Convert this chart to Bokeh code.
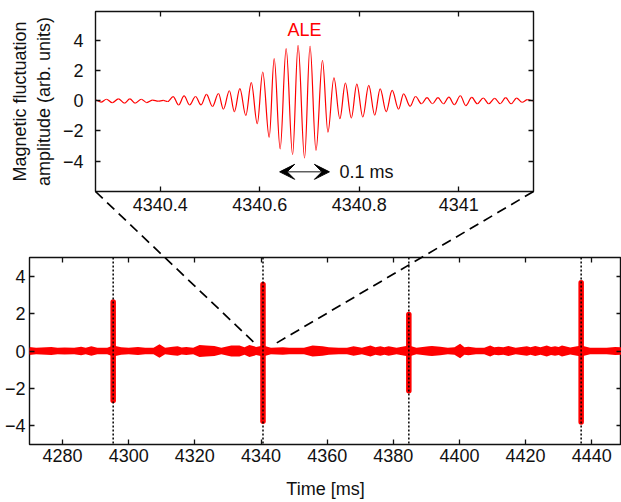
import numpy as np
from bokeh.plotting import figure
from bokeh.layouts import column
from bokeh.models import Range1d, FixedTicker, LinearAxis, Arrow, VeeHead, Label, Span
from bokeh.embed import file_html
from bokeh.resources import INLINE

# ---------------- data ----------------
# Inset: successive extrema of the zoomed ALE wave packet (time [ms], amplitude)
zoom_t = [4340.270, 4340.281, 4340.292, 4340.304, 4340.316, 4340.328, 4340.339, 4340.350,
          4340.362, 4340.373, 4340.385, 4340.396, 4340.406, 4340.415, 4340.426, 4340.437,
          4340.448, 4340.459, 4340.471, 4340.482, 4340.493, 4340.505, 4340.517, 4340.527,
          4340.539, 4340.549, 4340.560, 4340.572, 4340.583, 4340.595, 4340.606, 4340.619,
          4340.629, 4340.641, 4340.653, 4340.666, 4340.677, 4340.690, 4340.701, 4340.713,
          4340.726, 4340.737, 4340.749, 4340.761, 4340.772, 4340.784, 4340.795, 4340.807,
          4340.819, 4340.831, 4340.842, 4340.854, 4340.866, 4340.879, 4340.889, 4340.902,
          4340.913, 4340.925, 4340.936, 4340.947, 4340.958, 4340.969, 4340.980, 4340.991,
          4341.003, 4341.014, 4341.026, 4341.037, 4341.049, 4341.060, 4341.072, 4341.083,
          4341.094, 4341.105, 4341.116, 4341.127, 4341.138, 4341.150]
zoom_v = [0.05, -0.09, 0.10, -0.13, 0.13, -0.16, 0.12, -0.16,
          0.10, -0.12, 0.04, -0.03, 0.02, -0.05, 0.27, -0.28,
          0.32, -0.27, 0.28, -0.27, 0.42, -0.38, 0.48, -0.56,
          0.66, -0.72, 0.80, -0.97, 1.20, -1.52, 1.90, -2.41,
          2.78, -3.18, 3.44, -3.56, 3.66, -3.78, 3.62, -3.29,
          2.67, -2.08, 1.52, -1.19, 1.17, -1.13, 1.10, -1.07,
          1.01, -0.95, 0.79, -0.72, 0.68, -0.55, 0.46, -0.36,
          0.28, -0.20, 0.20, -0.20, 0.20, -0.20, 0.24, -0.26,
          0.33, -0.32, 0.22, -0.20, 0.18, -0.20, 0.16, -0.20,
          0.20, -0.20, 0.17, -0.10, 0.07, 0.00]
zoom_xticks = [4340.4, 4340.6, 4340.8, 4341.0]
zoom_xlabels = ["4340.4", "4340.6", "4340.8", "4341"]
zoom_yticks = [-4, -2, 0, 2, 4]
zoom_ylabels = ["\u22124", "\u22122", "0", "2", "4"]
period_ms = 0.1

# Main trace: ALE bursts (time [ms], max, min)
burst_t = [4295.3, 4340.6, 4384.7, 4436.8]
burst_top = [2.62, 3.55, 1.95, 3.65]
burst_bot = [-2.65, -3.75, -2.12, -3.80]
zoom_burst = 1  # burst shown in the inset

# Main trace: half-width of the background fluctuation band (time [ms], amplitude)
env_t = [4270.0, 4272.0, 4276.6, 4278.5, 4280.6, 4283.5, 4285.6, 4287.0, 4288.7, 4290.5,
         4293.5, 4295.3, 4297.7, 4300.0, 4302.8, 4305.0, 4307.5, 4309.3, 4311.0, 4313.3,
         4314.8, 4316.0, 4317.4, 4319.5, 4321.4, 4323.4, 4325.9, 4328.0, 4331.0, 4333.5,
         4335.0, 4336.5, 4338.5, 4340.6, 4343.0, 4346.6, 4348.5, 4350.6, 4353.0, 4355.6,
         4358.6, 4360.5, 4363.5, 4366.0, 4368.0, 4370.5, 4373.1, 4374.6, 4376.1, 4377.3,
         4378.6, 4381.0, 4384.7, 4387.0, 4390.7, 4391.7, 4394.2, 4396.5, 4398.5, 4400.2,
         4401.5, 4402.7, 4405.0, 4407.5, 4409.3, 4410.5, 4411.8, 4413.3, 4414.8, 4417.0,
         4420.4, 4421.5, 4422.9, 4424.5, 4426.4, 4427.7, 4428.9, 4430.0, 4431.0, 4433.5,
         4436.8, 4439.5, 4442.0, 4444.5, 4447.1, 4449.0]
env_half = [0.21, 0.17, 0.22, 0.17, 0.19, 0.17, 0.23, 0.18, 0.25, 0.17,
            0.18, 0.30, 0.20, 0.17, 0.21, 0.17, 0.18, 0.36, 0.18, 0.23,
            0.25, 0.19, 0.21, 0.18, 0.32, 0.29, 0.27, 0.18, 0.30, 0.29,
            0.20, 0.32, 0.22, 0.30, 0.18, 0.20, 0.17, 0.18, 0.17, 0.29,
            0.25, 0.20, 0.17, 0.18, 0.25, 0.18, 0.29, 0.20, 0.25, 0.20,
            0.25, 0.18, 0.30, 0.18, 0.25, 0.27, 0.23, 0.18, 0.20, 0.39,
            0.20, 0.23, 0.17, 0.18, 0.29, 0.20, 0.23, 0.20, 0.27, 0.18,
            0.25, 0.20, 0.27, 0.20, 0.29, 0.21, 0.25, 0.21, 0.29, 0.19,
            0.30, 0.17, 0.18, 0.17, 0.21, 0.20]
main_xticks = [4280, 4300, 4320, 4340, 4360, 4380, 4400, 4420, 4440]
main_xlabels = [str(v) for v in main_xticks]
main_yticks = [-4, -2, 0, 2, 4]
main_ylabels = ["\u22124", "\u22122", "0", "2", "4"]

# ---------------- layout (page pixels) ----------------
W = 621
HT = 502
SPLIT = 235
TOP = dict(left=95, right=533, top=11, bottom=191)
BOT = dict(left=29, right=621, top=257, bottom=444)
TXR = (4340.27, 4341.15)
TYR = (-6.0, 5.9)
BXR = (4270.0, 4449.0)
BYR = (-5.0, 5.0)

RED = "#ff0000"
INK = "#111111"
FONT = "Liberation Sans"
FS = "18px"


def mapper(fr, xr, yr):
    def to_px(x, y):
        px = fr["left"] + (x - xr[0]) / (xr[1] - xr[0]) * (fr["right"] - fr["left"])
        py = fr["bottom"] - (y - yr[0]) / (yr[1] - yr[0]) * (fr["bottom"] - fr["top"])
        return px, py

    def to_data(px, py):
        x = xr[0] + (px - fr["left"]) / (fr["right"] - fr["left"]) * (xr[1] - xr[0])
        y = yr[0] + (fr["bottom"] - py) / (fr["bottom"] - fr["top"]) * (yr[1] - yr[0])
        return x, y
    return to_px, to_data


top_px, top_data = mapper(TOP, TXR, TYR)
bot_px, bot_data = mapper(BOT, BXR, BYR)


def mirror_axis(ticks):
    return LinearAxis(ticker=FixedTicker(ticks=ticks), major_label_text_font_size="0px",
                      major_label_text_color=None, major_label_standoff=0,
                      major_tick_in=5, major_tick_out=0,
                      minor_tick_line_color=None, axis_line_color=None,
                      major_tick_line_color=INK, major_tick_line_width=1.3)


def style_axes(p, xticks, xlabels, yticks, ylabels, xstand, ystand):
    xa, ya = p.below[0], p.left[0]
    xa.ticker = FixedTicker(ticks=xticks)
    ya.ticker = FixedTicker(ticks=yticks)
    xa.major_label_overrides = dict(zip(xticks, xlabels))
    ya.major_label_overrides = dict(zip(yticks, ylabels))
    xa.major_label_standoff = xstand
    ya.major_label_standoff = ystand
    for ax in [xa, ya]:
        ax.major_tick_in = 5
        ax.major_tick_out = 0
        ax.minor_tick_line_color = None
        ax.major_tick_line_color = INK
        ax.major_tick_line_width = 1.3
        ax.axis_line_color = None
        ax.major_label_text_font = FONT
        ax.major_label_text_font_size = FS
        ax.major_label_text_color = INK
        ax.axis_label_text_font = FONT
        ax.axis_label_text_font_size = FS
        ax.axis_label_text_font_style = "normal"
        ax.axis_label_text_color = INK
    p.add_layout(mirror_axis(xticks), "above")
    p.add_layout(mirror_axis(yticks), "right")
    return xa, ya


# ---------------- inset figure ----------------
pt = figure(width=W, height=SPLIT, x_range=Range1d(*TXR), y_range=Range1d(*TYR),
            output_backend="svg", toolbar_location=None, frame_align=False,
            min_border_left=TOP["left"], min_border_right=W - TOP["right"],
            min_border_top=TOP["top"], min_border_bottom=SPLIT - TOP["bottom"])
pt.grid.visible = False
pt.outline_line_color = INK
pt.outline_line_width = 1.4
pt.background_fill_color = None
pt.border_fill_color = None
txa, tya = style_axes(pt, zoom_xticks, zoom_xlabels, zoom_yticks, zoom_ylabels, 6, 12)
tya.axis_label = "Magnetic fluctuation\namplitude (arb. units)"
tya.axis_label_standoff = 6

t = np.array(zoom_t)
v = np.array(zoom_v)
K = 0.36
dt = t[1:] - t[:-1]
pt.bezier(x0=t[:-1], y0=v[:-1], x1=t[1:], y1=v[1:],
          cx0=t[:-1] + K * dt, cy0=v[:-1], cx1=t[1:] - K * dt, cy1=v[1:],
          line_color=RED, line_width=1.2)

ipk = int(np.argmax(np.abs(v)))
pk_t = zoom_t[ipk]
pt.add_layout(Label(x=pk_t, y=4.7, text="ALE", text_color=RED, text_font=FONT,
                    text_font_size=FS, text_align="center", text_baseline="middle"))
pt.add_layout(Arrow(x_start=pk_t - period_ms / 2, x_end=pk_t + period_ms / 2,
                    y_start=-4.7, y_end=-4.7, line_color=INK, line_width=1,
                    start=VeeHead(size=15, fill_color="black", line_color="black"),
                    end=VeeHead(size=15, fill_color="black", line_color="black")))
pt.add_layout(Label(x=pk_t + period_ms / 2, y=-4.7, x_offset=10, text="0.1 ms",
                    text_color=INK, text_font=FONT, text_font_size=FS,
                    text_align="left", text_baseline="middle"))

# ---------------- main figure ----------------
H2 = HT - SPLIT
pb = figure(width=W, height=H2, x_range=Range1d(*BXR), y_range=Range1d(*BYR),
            output_backend="svg", toolbar_location=None, frame_align=False,
            min_border_left=BOT["left"], min_border_right=W - BOT["right"],
            min_border_top=BOT["top"] - SPLIT, min_border_bottom=HT - BOT["bottom"])
pb.grid.visible = False
pb.outline_line_color = INK
pb.outline_line_width = 1.4
pb.background_fill_color = None
pb.border_fill_color = None
bxa, bya = style_axes(pb, main_xticks, main_xlabels, main_yticks, main_ylabels, 4, 4)
bxa.axis_label = "Time [ms]"
bxa.axis_label_standoff = 14

et = np.array(env_t)
eh = np.array(env_half)
pb.varea(x=et, y1=-eh, y2=eh, fill_color=RED)
pb.line(x=et, y=np.zeros_like(et), line_color=RED, line_width=5.5, line_cap="round")
pb.segment(x0=burst_t, y0=burst_bot, x1=burst_t, y1=burst_top, line_color=RED,
           line_width=5.5, line_cap="round")
for bt in burst_t:
    pb.add_layout(Span(location=bt, dimension="height", line_color="black",
                       line_width=1.5, line_dash="2 2"))

# ---------------- overlay for the zoom connector lines ----------------
# Its frame covers the whole page; its ranges continue the main panel's scales.
ox0, oy1 = bot_data(0, 0)
ox1, oy0 = bot_data(W, HT)
ov = figure(width=W, height=HT, x_range=Range1d(ox0, ox1), y_range=Range1d(oy0, oy1),
            output_backend="svg", toolbar_location=None, frame_align=False,
            x_axis_type=None, y_axis_type=None,
            min_border_left=0, min_border_right=0, min_border_top=0, min_border_bottom=0,
            margin=(-HT, 0, 0, 0))
ov.grid.visible = False
ov.outline_line_color = None
ov.background_fill_color = None
ov.border_fill_color = None

tx, ty = bot_data(*bot_px(burst_t[zoom_burst], 0.0))
for cx in TXR:
    sx, sy = bot_data(*top_px(cx, TYR[0]))
    ex = sx + 0.95 * (tx - sx)
    ey = sy + 0.95 * (ty - sy)
    ov.line(x=[sx, ex], y=[sy, ey], line_color="black", line_width=1.7, line_dash="10 6")

layout = column(pt, pb, ov)
open("out.html", "w").write(file_html(layout, INLINE))
